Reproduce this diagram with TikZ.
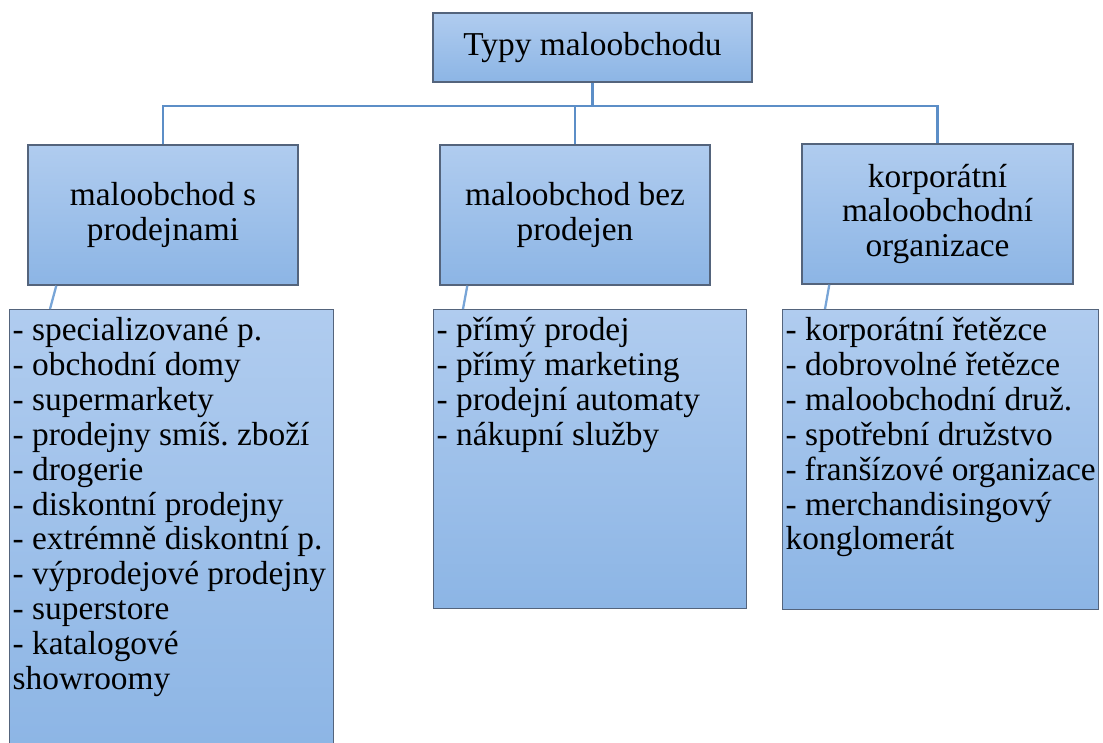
\documentclass[tikz,border=0pt]{standalone}
\usepackage{fontspec}
\setmainfont{Liberation Serif}
\frenchspacing
\definecolor{smlight}{RGB}{176,204,239}
\definecolor{smdeep}{RGB}{140,181,229}
\definecolor{smedge}{RGB}{84,100,124}
\definecolor{smline}{RGB}{92,142,199}
\definecolor{smline2}{RGB}{120,165,215}
\usetikzlibrary{calc}

\begin{document}
\begin{tikzpicture}[
  box/.style={draw=smedge,line width=0.8pt,top color=smlight,bottom color=smdeep,
    font=\fontsize{19}{19.85}\selectfont,align=center,inner sep=0pt},
  leaf/.style={box,anchor=north west,align=left,inner xsep=0.06cm,inner ysep=0.13cm},
  link/.style={smline,line width=1.3pt}]
  \useasboundingbox (0,0) rectangle (22.06,14.84);
  \node[box,minimum width=6.38cm,minimum height=1.38cm] (root) at (11.85,13.89) {Typy maloobchodu};
  \node[box,minimum width=5.4cm,minimum height=2.8cm] (k1) at (3.26,10.54) {maloobchod s\\prodejnami};
  \node[box,minimum width=5.4cm,minimum height=2.8cm] (k2) at (11.5,10.54) {maloobchod bez\\prodejen};
  \node[box,minimum width=5.42cm,minimum height=2.8cm] (k3) at (18.75,10.56) {korporátní\\maloobchodní\\organizace};
  \node[leaf] (l1) at (0.18,8.66) {\parbox[t][8.64cm][t]{6.36cm}{\raggedright\strut
    - specializované p.\\- obchodní domy\\- supermarkety\\- prodejny smíš. zboží\\- drogerie\\
    - diskontní prodejny\\- extrémně diskontní p.\\- výprodejové prodejny\\- superstore\\
    - katalogové\\showroomy}};
  \node[leaf] (l2) at (8.66,8.66) {\parbox[t][5.72cm][t]{6.14cm}{\raggedright\strut
    - přímý prodej\\- přímý marketing\\- prodejní automaty\\- nákupní služby}};
  \node[leaf] (l3) at (15.64,8.66) {\parbox[t][5.74cm][t]{6.2cm}{\raggedright\strut
    - korporátní řetězce\\- dobrovolné řetězce\\- maloobchodní druž.\\- spotřební družstvo\\
    - franšízové organizace\\- merchandisingový\\konglomerát}};
  \draw[link] (root.south) -- ++(0,-0.46) coordinate (bus);
  \foreach \k in {k1,k2,k3}{\draw[link] (bus) -| (\k.north);}
  \draw[link,smline2] ($(k1.south west)+(0.58,0)$) -- ($(l1.north west)+(0.82,0)$);
  \draw[link,smline2] ($(k2.south west)+(0.56,0)$) -- ($(l2.north west)+(0.6,0)$);
  \draw[link,smline2] ($(k3.south west)+(0.56,0)$) -- ($(l3.north west)+(0.86,0)$);
\end{tikzpicture}
\end{document}
